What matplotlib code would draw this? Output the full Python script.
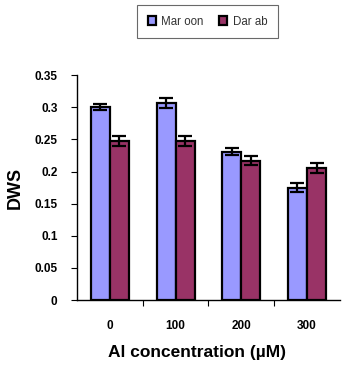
import matplotlib
matplotlib.use("Agg")
from matplotlib import pyplot as plt
import numpy as np

plt.rcParams['font.family'] = ['Liberation Sans', 'DejaVu Sans']
plt.rcParams['font.weight'] = 'bold'

# data
concentrations = ['0', '100', '200', '300']
maroon = [0.300, 0.307, 0.231, 0.175]
maroon_err = [0.005, 0.008, 0.006, 0.007]
darab = [0.248, 0.248, 0.217, 0.206]
darab_err = [0.008, 0.008, 0.007, 0.008]

fig = plt.figure(figsize=(3.44, 3.70), dpi=100)
ax = fig.add_axes([0.224, 0.189, 0.764, 0.608])

x = np.arange(len(concentrations))
w = 0.29
err_style = dict(ecolor='black', elinewidth=1.6, capsize=5, capthick=1.6)
ax.bar(x - w/2, maroon, w, color='#9999FF', edgecolor='black', linewidth=1.6,
       yerr=maroon_err, error_kw=err_style, label='Mar oon')
ax.bar(x + w/2, darab, w, color='#993366', edgecolor='black', linewidth=1.6,
       yerr=darab_err, error_kw=err_style, label='Dar ab')

ax.set_xlim(-0.5, len(concentrations) - 0.5)
ax.set_ylim(0, 0.35)
ax.set_yticks(np.arange(0, 0.351, 0.05))
ax.set_yticklabels(['0', '0.05', '0.1', '0.15', '0.2', '0.25', '0.3', '0.35'])

# ticks between categories, labels at category centres
ax.set_xticks(x[:-1] + 0.5)
ax.set_xticklabels([])
ax.set_xticks(x, minor=True)
ax.set_xticklabels(concentrations, minor=True)
ax.tick_params(axis='x', which='minor', length=0, pad=14, labelsize=8.5)
ax.tick_params(axis='x', which='major', length=4, direction='out')
ax.tick_params(axis='y', length=4, direction='out', labelsize=8.5, pad=10)

for s in ['top', 'right']:
    ax.spines[s].set_visible(False)
ax.spines['left'].set_linewidth(1)
ax.spines['bottom'].set_linewidth(1)

ax.set_xlabel('Al concentration (µM)', fontsize=12.5, fontweight='bold')
ax.xaxis.set_label_coords(0.455, -0.2)
ax.set_ylabel('DWS', fontsize=13, fontweight='bold', labelpad=8)

leg = fig.legend(loc='upper center', bbox_to_anchor=(0.603, 0.986), ncol=2,
                 frameon=True, fancybox=False, edgecolor='#444444',
                 prop={'weight': 'normal', 'size': 8.3}, borderaxespad=0,
                 borderpad=0.9, handlelength=0.7, handleheight=0.7,
                 handletextpad=0.5, columnspacing=1.3)
leg.get_frame().set_linewidth(0.8)
for t in leg.get_texts():
    t.set_color('#333333')

fig.savefig('out.png', dpi=100)
